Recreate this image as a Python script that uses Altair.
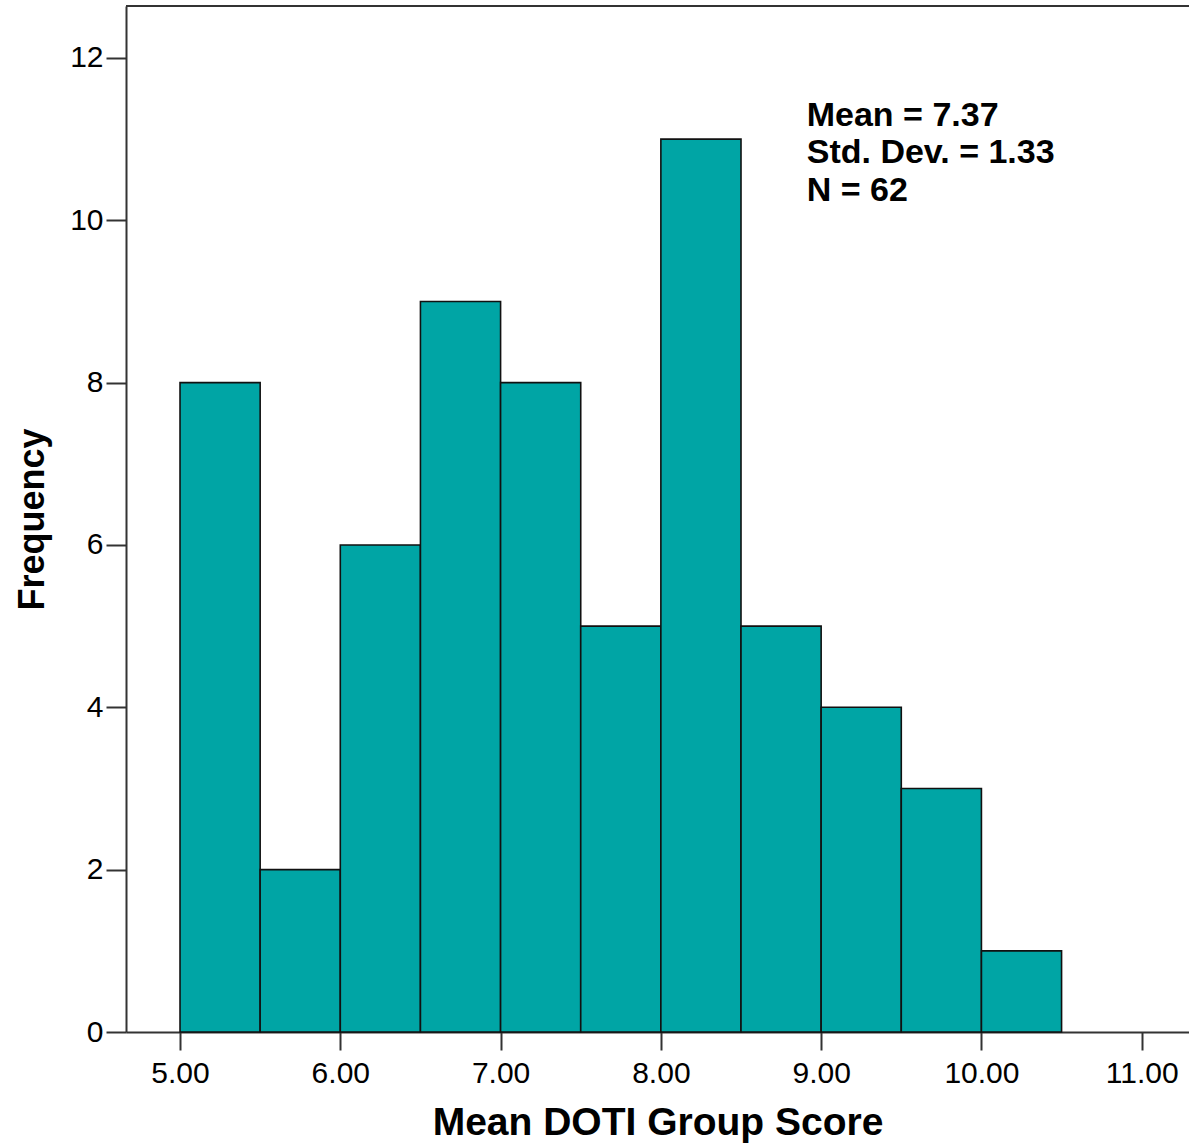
import altair as alt
import pandas as pd

# Histogram bins (lower edge, upper edge) and frequencies
bin_start = [5.0, 5.5, 6.0, 6.5, 7.0, 7.5, 8.0, 8.5, 9.0, 9.5, 10.0]
bin_end = [5.5, 6.0, 6.5, 7.0, 7.5, 8.0, 8.5, 9.0, 9.5, 10.0, 10.5]
frequency = [8, 2, 6, 9, 8, 5, 11, 5, 4, 3, 1]

x_ticks = [5, 6, 7, 8, 9, 10, 11]
y_ticks = [0, 2, 4, 6, 8, 10, 12]

stats_lines = ["Mean = 7.37", "Std. Dev. = 1.33", "N = 62"]
stats_x = [8.91, 8.91, 8.91]
stats_y = [11.16, 10.70, 10.24]

X_DOMAIN = [4.663, 11.295]
Y_DOMAIN = [0, 12.64]

FONT = "Liberation Sans"

bars_df = pd.DataFrame({"start": bin_start, "end": bin_end, "freq": frequency})
stats_df = pd.DataFrame({"label": stats_lines, "x": stats_x, "y": stats_y})

x_scale = alt.Scale(domain=X_DOMAIN, nice=False, zero=False)
y_scale = alt.Scale(domain=Y_DOMAIN, nice=False)

bars = alt.Chart(bars_df).mark_bar(
    fill="#00A5A5", stroke="#111111", strokeWidth=1.6
).encode(
    x=alt.X("start:Q", scale=x_scale,
            axis=alt.Axis(values=x_ticks, format=".2f", title="Mean DOTI Group Score",
                          grid=False, tickSize=18, labelPadding=8,
                          labelFontSize=30, labelFont=FONT, labelColor="#000000",
                          titleFont=FONT, titleFontSize=39, titleFontWeight="bold",
                          titleColor="#000000", titleBaseline="alphabetic", titleY=102,
                          domainColor="#333333", domainWidth=2,
                          tickColor="#333333", tickWidth=2)),
    x2="end:Q",
    y=alt.Y("freq:Q", scale=y_scale,
            axis=alt.Axis(values=y_ticks, format="d", title="Frequency", grid=False,
                          tickSize=20, labelPadding=3,
                          labelFontSize=30, labelFont=FONT, labelColor="#000000",
                          titleFont=FONT, titleFontSize=36, titleFontWeight="bold",
                          titleColor="#000000", titleAngle=-90, titleBaseline="alphabetic",
                          titleX=-83, titleY=513,
                          domainColor="#333333", domainWidth=2,
                          tickColor="#333333", tickWidth=2)),
    y2=alt.datum(0),
)

top_line = alt.Chart(pd.DataFrame({"a": [0]})).mark_rule(
    color="#333333", strokeWidth=2
).encode(
    x=alt.datum(X_DOMAIN[0], scale=x_scale),
    x2=alt.datum(X_DOMAIN[1]),
    y=alt.datum(Y_DOMAIN[1], scale=y_scale),
)

stats = alt.Chart(stats_df).mark_text(
    align="left", baseline="alphabetic", font=FONT, fontSize=34,
    fontWeight="bold", color="#000000"
).encode(
    x=alt.X("x:Q", scale=x_scale),
    y=alt.Y("y:Q", scale=y_scale),
    text="label:N",
)

chart = alt.layer(bars, top_line, stats).properties(
    width=1063, height=1026,
    autosize=alt.AutoSizeParams(type="none"),
    padding={"left": 126, "top": 6, "right": 0, "bottom": 112},
).configure_view(stroke=None).configure(background="#ffffff")

chart.save("out.html", embed_options={"renderer": "svg", "actions": False})
